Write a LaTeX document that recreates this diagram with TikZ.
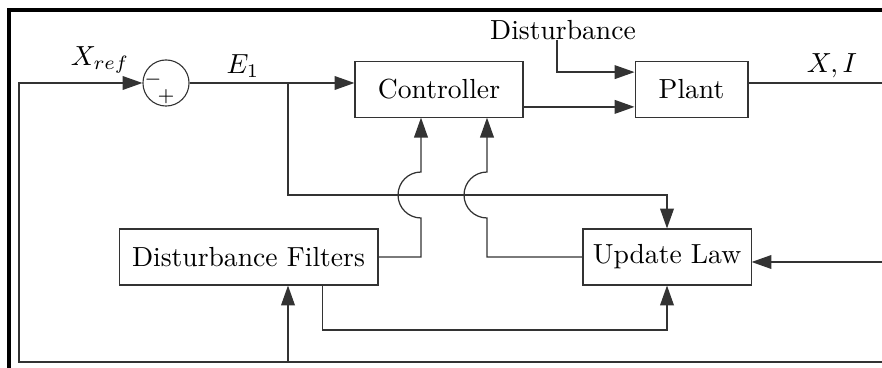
\documentclass[tikz,border=0pt]{standalone}
\usetikzlibrary{arrows.meta}
\begin{document}
\begin{tikzpicture}[x=0.3623pt,y=0.3623pt,
    block/.style={draw,black!80,text=black,inner sep=0pt,minimum height=20pt},
    sumnode/.style={circle,draw,black!80,minimum size=16.7pt,inner sep=0pt},
    line/.style={draw,black!80,line width=0.45pt},
    arr/.style={line,-{Triangle[length=7.2pt,width=5pt]}}]
                \useasboundingbox (0,0) rectangle (882,368);
                \draw[line width=1.1pt] (9,0) -- (9,358) -- (882,358);
                % top row
                \node[sumnode] (s) at (166,285) {};
                \node[font=\scriptsize] at (153,288) {$-$};
                \node[font=\scriptsize] at (166,271) {$+$};
                \node[block,minimum width=60.9pt] (ctrl) at (439,278.5) {Controller};
                \node[block,minimum width=40.9pt] (plant) at (691.5,278.5) {Plant};
                \node (dist) at (563,338) {Disturbance};
                % bottom row
                \node[block,minimum width=93.8pt,minimum height=20.3pt] (df) at (248.5,111) {Disturbance Filters};
                \node[block,minimum width=60.9pt,minimum height=20.3pt] (ul) at (667,111) {Update Law};
                % labels
                \node at (100,308) {$X_{ref}$};
                \node at (243,302) {$E_1$};
                \node at (832,302) {$X,I$};
                % points
                \coordinate (br) at (288,285);
                \coordinate (fb) at (19,6);
                \coordinate (dd) at (557,328);
                \coordinate (j1) at (421,173);
                \coordinate (j2) at (487,173);
                \coordinate (outx) at (882,285);
                \coordinate (inx) at (882,106);
                \coordinate (endx) at (882,6);
                % connectors
                \draw[arr] (s.east) -- (s.east -| ctrl.west);
                \draw[arr] (dd) |- ([yshift=6.3pt]plant.west);
                \draw[arr] ([yshift=-6.3pt]ctrl.east) -- ([yshift=-6.3pt]plant.west);
                \draw[line] (outx -| plant.east) -- (outx);
                \draw[arr] (br) |- (j2) -| (ul.north);
                \draw[arr] (df.east) -| ([yshift=-8.33pt]j1) arc[start angle=270,end angle=90,radius=8.33pt] -- (ctrl.south -| j1);
                \draw[arr] (ul.west) -| ([yshift=-8.33pt]j2) arc[start angle=270,end angle=90,radius=8.33pt] -- (ctrl.south -| j2);
                \draw[arr] (inx) -- (inx -| ul.east);
                \draw[arr] ([xshift=26.7pt]df.south) |- (ul.south |- 0,38) -- (ul.south);
                \draw[arr] (endx) -- (fb) |- (s.west);
                \draw[arr] (br |- fb) -- (br |- df.south);
              \end{tikzpicture}
\end{document}
